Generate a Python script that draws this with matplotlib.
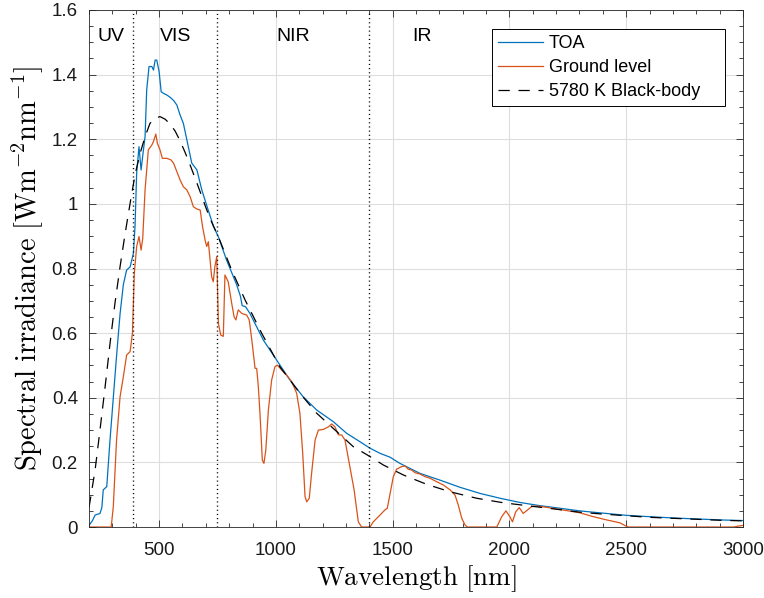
"""
Solar spectral irradiance: top of atmosphere, ground level and a 5780 K black-body.
"""
import matplotlib
matplotlib.use('Agg')
import matplotlib.pyplot as plt
from matplotlib.ticker import MultipleLocator, FuncFormatter

# Top of atmosphere spectrum (nm, W m^-2 nm^-1)
toa_wl = [200, 215, 226, 247, 255, 261, 276, 290, 304, 318, 333, 347, 361, 376,
          390, 397, 404, 414, 423, 433, 440, 447, 457, 469, 476, 483, 490, 500,
          509, 519, 533, 547, 562, 576, 590, 604, 619, 640, 662, 683, 704, 733,
          754, 789, 832, 848, 856, 870, 889, 946, 1003, 1060, 1117, 1175, 1246,
          1303, 1360, 1403, 1446, 1489, 1531, 1617, 1703, 1788, 1874, 1960, 2045,
          2131, 2217, 2300, 2400, 2502, 2600, 2700, 2800, 2900, 3000]
toa_val = [0.005, 0.02, 0.037, 0.042, 0.06, 0.115, 0.125, 0.27, 0.40, 0.53, 0.66,
           0.75, 0.795, 0.805, 0.847, 0.93, 1.095, 1.177, 1.105, 1.167, 1.208,
           1.353, 1.425, 1.425, 1.414, 1.445, 1.445, 1.41, 1.347, 1.342, 1.337,
           1.33, 1.32, 1.306, 1.275, 1.249, 1.198, 1.126, 1.105, 1.043, 0.995,
           0.93, 0.898, 0.826, 0.75, 0.715, 0.685, 0.682, 0.661, 0.579, 0.517,
           0.455, 0.403, 0.362, 0.326, 0.29, 0.264, 0.244, 0.228, 0.216, 0.197,
           0.166, 0.145, 0.123, 0.104, 0.089, 0.076, 0.066, 0.058, 0.050, 0.043,
           0.036, 0.032, 0.028, 0.025, 0.022, 0.020]

# Ground level spectrum
ground_wl = [200, 295, 304, 318, 333, 347, 361, 376, 386, 394, 404, 414, 423, 430,
             440, 454, 469, 476, 486, 493, 504, 514, 533, 551, 562, 576, 590, 604,
             619, 633, 647, 662, 676, 686, 697, 704, 711, 725, 732, 739, 747, 754,
             764, 775, 782, 796, 811, 821, 829, 839, 854, 875, 886, 897, 911, 918,
             925, 932, 942, 949, 957, 968, 982, 996, 1006, 1025, 1046, 1068, 1089,
             1103, 1115, 1125, 1132, 1143, 1153, 1168, 1182, 1203, 1225, 1239, 1253,
             1268, 1282, 1296, 1317, 1335, 1353, 1367, 1403, 1417, 1446, 1467, 1477,
             1489, 1503, 1517, 1539, 1553, 1567, 1582, 1596, 1617, 1638, 1660, 1689,
             1717, 1746, 1767, 1781, 1796, 1810, 1820, 1946, 1967, 1985, 2002, 2013,
             2027, 2042, 2059, 2073, 2095, 2116, 2159, 2217, 2302, 2359, 2416, 2473,
             2502, 2510, 2960, 2980, 3000]
ground_val = [0, 0, 0.063, 0.27, 0.403, 0.465, 0.532, 0.543, 0.60, 0.785, 0.868,
              0.899, 0.857, 0.893, 1.043, 1.167, 1.182, 1.193, 1.216, 1.187, 1.167,
              1.141, 1.141, 1.136, 1.126, 1.10, 1.074, 1.053, 1.043, 1.022, 0.991,
              0.984, 0.981, 0.93, 0.888, 0.868, 0.883, 0.775, 0.759, 0.806, 0.837,
              0.63, 0.594, 0.59, 0.78, 0.759, 0.692, 0.651, 0.641, 0.672, 0.661,
              0.656, 0.641, 0.579, 0.491, 0.491, 0.434, 0.352, 0.207, 0.197, 0.238,
              0.362, 0.455, 0.496, 0.501, 0.486, 0.47, 0.45, 0.414, 0.352, 0.228,
              0.094, 0.078, 0.089, 0.166, 0.269, 0.30, 0.302, 0.31, 0.319, 0.31,
              0.285, 0.285, 0.269, 0.187, 0.115, 0.016, 0, 0, 0.016, 0.037, 0.053,
              0.058, 0.104, 0.156, 0.179, 0.187, 0.189, 0.179, 0.176, 0.168, 0.164,
              0.156, 0.151, 0.14, 0.13, 0.115, 0.099, 0.068, 0.027, 0.006, 0, 0,
              0.032, 0.05, 0.032, 0.016, 0.047, 0.06, 0.042, 0.05, 0.063, 0.065,
              0.061, 0.054, 0.044, 0.032, 0.022, 0.013, 0.002, 0, 0, 0.003, 0.005]

# 5780 K black-body curve
bb_wl = [200, 226, 247, 269, 290, 311, 333, 354, 376, 397, 419, 440, 461, 483,
         504, 526, 547, 569, 590, 611, 633, 654, 676, 697, 718, 754, 811, 868,
         939, 1017, 1103, 1175, 1246, 1331, 1403, 1460, 1546, 1646, 1746, 1860,
         1974, 2088, 2202, 2300, 2400, 2500, 2600, 2700, 2800, 2900, 3000]
bb_val = [0.06, 0.176, 0.30, 0.434, 0.568, 0.692, 0.806, 0.905, 1.002, 1.09,
          1.157, 1.208, 1.249, 1.265, 1.27, 1.262, 1.247, 1.225, 1.195, 1.16,
          1.12, 1.08, 1.037, 0.995, 0.955, 0.898, 0.795, 0.703, 0.60, 0.496,
          0.414, 0.352, 0.305, 0.249, 0.218, 0.192, 0.161, 0.132, 0.109, 0.089,
          0.075, 0.065, 0.055, 0.046, 0.040, 0.035, 0.030, 0.027, 0.024, 0.021,
          0.019]

band_edges = [390, 750, 1400]
band_names = ['UV', 'VIS', 'NIR', 'IR']
band_label_x = [295, 570, 1075, 1625]

plt.rcParams['font.family'] = ['Liberation Sans', 'DejaVu Sans']
plt.rcParams['mathtext.fontset'] = 'cm'

fig = plt.figure(figsize=(7.64, 5.98), dpi=100)
ax = fig.add_axes([0.1165, 0.1187, 0.856, 0.8646])

ax.plot(toa_wl, toa_val, color='#0072BD', lw=0.9, label='TOA')
ax.plot(ground_wl, ground_val, color='#D95319', lw=0.9, label='Ground level')
ax.plot(bb_wl, bb_val, color='black', lw=0.9, dashes=(9, 7),
        label='5780 K Black-body')

for edge in band_edges:
    ax.axvline(edge, color='black', lw=1.0, dashes=(0.8, 2.2))
for name, xpos in zip(band_names, band_label_x):
    ax.text(xpos, 1.517, name, ha='center', va='center', fontsize=14)

ax.set_xlim(200, 3000)
ax.set_ylim(0, 1.6)
ax.xaxis.set_major_locator(MultipleLocator(500))
ax.xaxis.set_minor_locator(MultipleLocator(100))
ax.yaxis.set_major_locator(MultipleLocator(0.2))
ax.yaxis.set_minor_locator(MultipleLocator(0.05))
ax.yaxis.set_major_formatter(FuncFormatter(lambda v, p: '%g' % round(v, 2)))

ax.tick_params(which='both', direction='in', top=True, right=True,
               colors='#262626', labelcolor='#1a1a1a')
ax.tick_params(which='major', length=5, width=0.6, labelsize=13.5)
ax.tick_params(which='minor', length=3, width=0.6)
ax.tick_params(axis='x', which='major', pad=11)
ax.tick_params(axis='y', which='major', pad=8)
for s in ax.spines.values():
    s.set_color('#262626')
    s.set_linewidth(0.6)

ax.grid(True, which='major', color='#dedede', lw=0.8)
ax.set_axisbelow(True)

ax.set_xlabel(r'$\mathrm{Wavelength\ [nm]}$', fontsize=19.5, labelpad=3)
ax.set_ylabel(r'$\mathrm{Spectral\ irradiance\ [Wm^{-2}nm^{-1}]}$',
              fontsize=20.5, labelpad=5)

# MATLAB-like legend box: wider than its text, anchored top right
leg = ax.legend(loc='upper left', bbox_to_anchor=(0.6162, 0.7633, 0.3563, 0.2),
                mode='expand', borderaxespad=0, fontsize=13, frameon=True,
                fancybox=False, handlelength=2.5, handletextpad=0.33,
                labelspacing=0.4, borderpad=0.33)
leg.get_frame().set_edgecolor('black')
leg.get_frame().set_linewidth(0.7)
leg.get_frame().set_alpha(1)

fig.savefig('out.png', dpi=100)
